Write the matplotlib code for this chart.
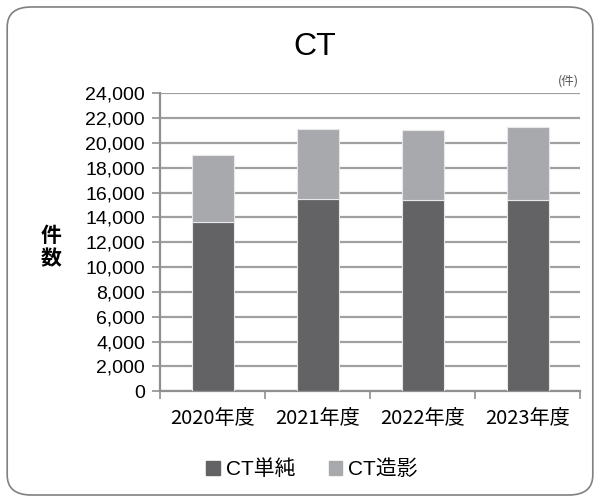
import matplotlib
matplotlib.use("Agg")
import matplotlib.pyplot as plt
from matplotlib.patches import FancyBboxPatch, Patch
from matplotlib.ticker import FuncFormatter

plt.rcParams['font.family'] = ['Noto Sans CJK JP', 'DejaVu Sans']

categories = ["2020年度", "2021年度", "2022年度", "2023年度"]
simple = [13600, 15500, 15400, 15400]
contrast = [5400, 5600, 5650, 5850]
series_names = ["CT単純", "CT造影"]
colors = ["#636365", "#a8a9ac"]

fig = plt.figure(figsize=(6.0, 4.99), dpi=100)
border = FancyBboxPatch((0.012, 0.008), 0.976, 0.978, boxstyle="round,pad=0,rounding_size=0.04",
                        transform=fig.transFigure, fill=False, edgecolor="#808080", linewidth=1.2)
fig.patches.append(border)

ax = fig.add_axes([0.267, 0.216, 0.700, 0.597])
x = range(len(categories))
ax.bar(x, simple, width=0.4, color=colors[0], edgecolor="#e8e8e8", linewidth=0.8, zorder=3)
ax.bar(x, contrast, width=0.4, bottom=simple, color=colors[1], edgecolor="#e8e8e8", linewidth=0.8, zorder=3)

ax.set_xlim(-0.5, 3.5)
ax.set_ylim(0, 24000)
ax.set_yticks(range(0, 24001, 2000))
ax.yaxis.set_major_formatter(FuncFormatter(lambda v, p: f"{int(v):,}"))
ax.grid(axis="y", color="#a0a0a0", linewidth=1.6, zorder=0)
ax.set_xticks(list(x))
ax.set_xticklabels(categories, fontsize=14.5)
ax.set_xticks([-0.5, 0.5, 1.5, 2.5, 3.5], minor=True)
ax.tick_params(axis="x", which="major", length=0, pad=12)
ax.tick_params(axis="x", which="minor", length=6, color="#909090", width=1.2)
ax.tick_params(axis="y", length=6, color="#909090", width=1.2, labelsize=14, pad=5)
for lab in ax.get_yticklabels():
    lab.set_fontfamily(['Liberation Sans', 'DejaVu Sans'])
for s in ["top", "right"]:
    ax.spines[s].set_visible(False)
for s in ["left", "bottom"]:
    ax.spines[s].set_color("#909090")
    ax.spines[s].set_linewidth(1.6)

fig.text(0.525, 0.905, "CT", ha="center", va="center", fontsize=23,
         family=['Liberation Sans', 'DejaVu Sans'])
fig.text(0.965, 0.838, "(件)", ha="right", va="center", fontsize=9, color="#555555")
fig.text(0.085, 0.505, "件\n数", ha="center", va="center", fontsize=15, fontweight="bold", linespacing=1.1)

handles = [Patch(color=colors[0]), Patch(color=colors[1])]
fig.legend(handles, series_names, loc="center", bbox_to_anchor=(0.52, 0.06), ncol=2, frameon=False,
           prop={'family': ['Liberation Sans', 'Noto Sans CJK JP'], 'size': 15},
           handlelength=0.65, handleheight=0.65, handletextpad=0.3, columnspacing=1.6)

fig.savefig("out.png", dpi=100)
